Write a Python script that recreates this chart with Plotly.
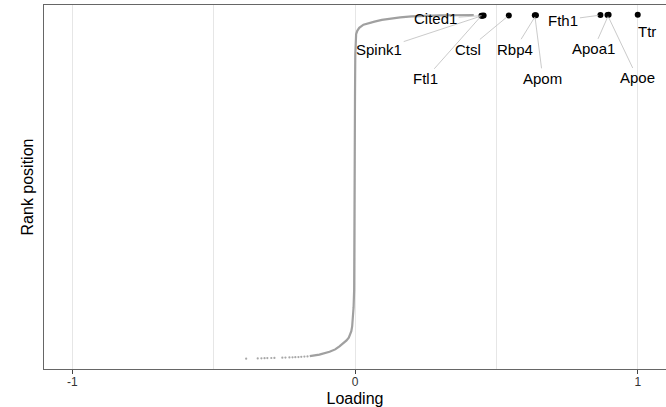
import plotly.graph_objects as go

# Sparse low-rank points (bottom-left tail)
tail_loading = [-0.385, -0.344, -0.331, -0.320, -0.310, -0.296, -0.285, -0.257, -0.246,
                -0.232, -0.221, -0.211, -0.200, -0.190, -0.179, -0.168]
tail_rank = [1, 3, 4, 5, 6, 7, 8, 10, 11, 12, 13, 14, 15, 17, 19, 21]

# Dense part of the rank curve
curve_loading = [-0.160, -0.126, -0.090, -0.070, -0.055, -0.040, -0.030, -0.022, -0.017,
                 -0.013, -0.010, -0.007, -0.005, -0.003, -0.002, -0.001, 0.000, 0.001,
                 0.002, 0.004, 0.008, 0.015, 0.030, 0.050, 0.069, 0.095, 0.125, 0.160,
                 0.200, 0.300, 0.420]
curve_rank = [23, 37, 61, 82, 109, 135, 160, 185, 210,
              240, 283, 360, 450, 601, 900, 1500, 2300, 2650,
              2780, 2830, 2860, 2886, 2913, 2930, 2940, 2955, 2967, 2977,
              2985, 2994, 2998]

# Labelled top genes
genes = ["Ftl1", "Spink1", "Cited1", "Ctsl", "Apom", "Rbp4", "Fth1", "Apoe", "Apoa1", "Ttr"]
gene_loading = [0.447, 0.450, 0.455, 0.544, 0.636, 0.640, 0.868, 0.893, 0.897, 1.000]
gene_rank = [2991, 2992, 2993, 2994, 2995, 2996, 2997, 2998, 2999, 3000]

# label offsets (pixels) from the point
label_dx = {"Cited1": -48, "Spink1": -103, "Ftl1": -56, "Ctsl": -41, "Rbp4": -21,
            "Apom": 8, "Fth1": -37, "Apoa1": -15, "Apoe": 30, "Ttr": 9}
label_dy = {"Cited1": 3, "Spink1": 34, "Ftl1": 63, "Ctsl": 34, "Rbp4": 34,
            "Apom": 63, "Fth1": 5, "Apoa1": 34, "Apoe": 63, "Ttr": 17}

FONT = "Liberation Sans, Arial, Helvetica, sans-serif"

fig = go.Figure()
fig.add_trace(go.Scatter(x=curve_loading, y=curve_rank, mode="lines",
                         line=dict(color="#a0a0a0", width=2.2),
                         hoverinfo="skip", showlegend=False))
fig.add_trace(go.Scatter(x=tail_loading, y=tail_rank, mode="markers",
                         marker=dict(color="#a8a8a8", size=2.2),
                         hoverinfo="skip", showlegend=False))
fig.add_trace(go.Scatter(x=gene_loading, y=gene_rank, mode="markers",
                         marker=dict(color="black", size=6),
                         text=genes, showlegend=False))

for g, lx, ly in zip(genes, gene_loading, gene_rank):
    if g == "Ttr":
        fig.add_annotation(x=lx, y=ly, text=g, showarrow=False,
                           xshift=label_dx[g], yshift=-label_dy[g],
                           font=dict(family=FONT, size=15, color="black"))
    else:
        fig.add_annotation(x=lx, y=ly, text=g, showarrow=True, arrowhead=0,
                           arrowwidth=0.8, arrowcolor="#bdbdbd",
                           ax=label_dx[g], ay=label_dy[g], standoff=2,
                           font=dict(family=FONT, size=15, color="black"))

fig.update_layout(
    width=666, height=407,
    margin=dict(l=44, r=0, t=5, b=38),
    paper_bgcolor="white", plot_bgcolor="white",
    font=dict(family=FONT, color="black"),
    xaxis=dict(range=[-1.1, 1.1], tickvals=[-1, 0, 1], ticktext=["-1", "0", "1"],
               showgrid=True, gridcolor="#e6e6e6", gridwidth=1,
               minor=dict(tickvals=[-0.5, 0.5], showgrid=True, gridcolor="#e6e6e6", gridwidth=1),
               zeroline=False, showline=True, linecolor="#666666", linewidth=1.3, mirror=True,
               ticks="outside", ticklen=4, tickcolor="#444444", tickwidth=1,
               ticklabelstandoff=-3,
               tickfont=dict(size=12, color="#333333"),
               title=dict(text="Loading", font=dict(size=16, color="black"), standoff=6)),
    yaxis=dict(range=[-89, 3085], showticklabels=False, ticks="", showgrid=False,
               zeroline=False, showline=True, linecolor="#666666", linewidth=1.3, mirror=True,
               title=dict(text="Rank position", font=dict(size=16, color="black"), standoff=5)),
)

fig.write_html("out.html")
